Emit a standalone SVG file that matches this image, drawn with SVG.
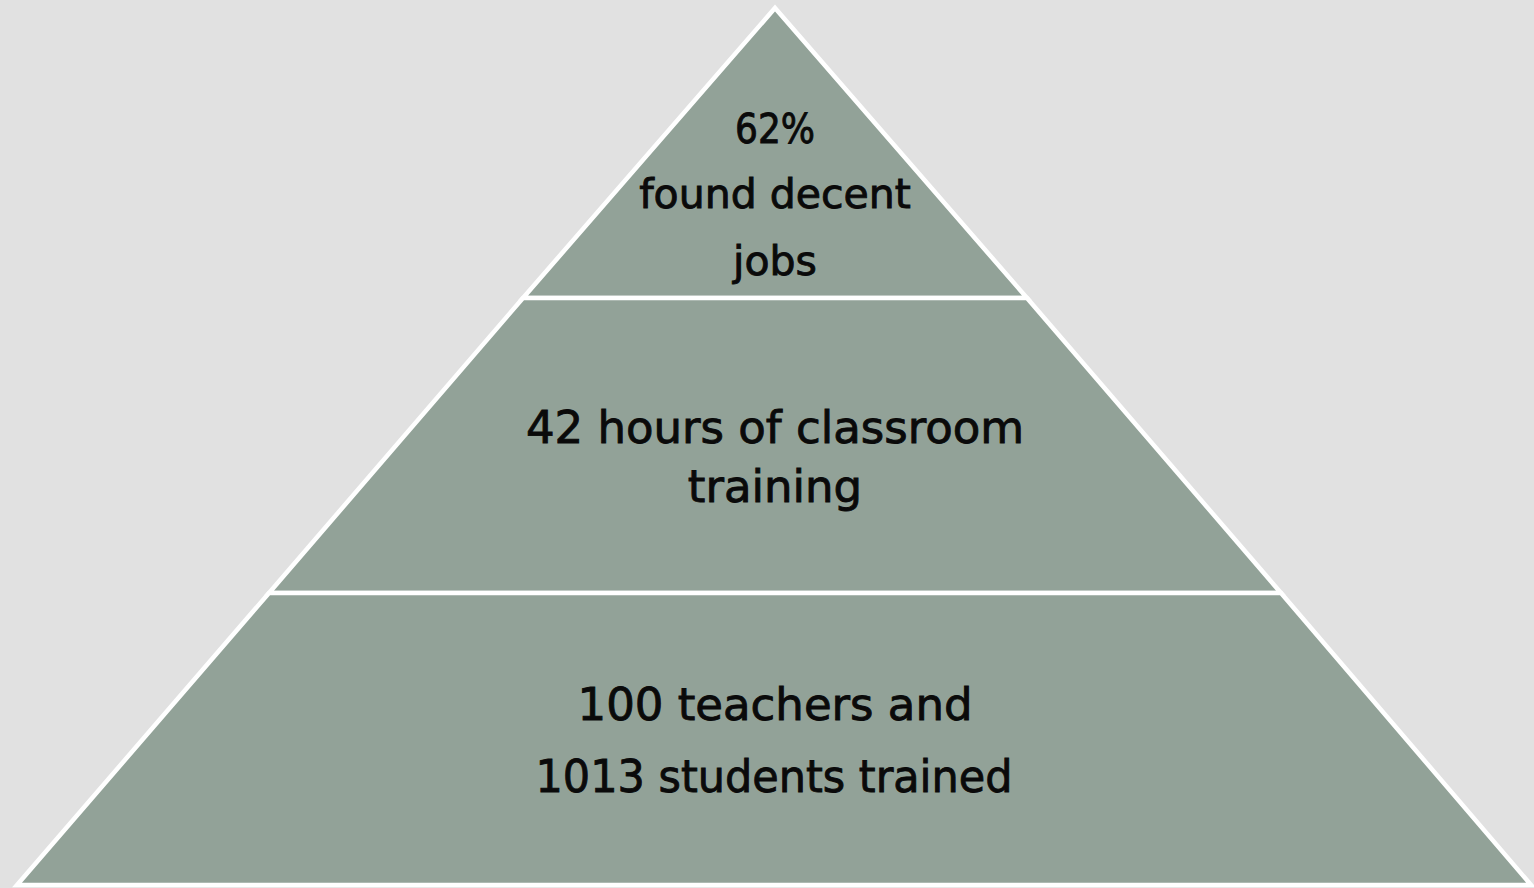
<svg xmlns="http://www.w3.org/2000/svg" width="1534" height="888" viewBox="0 0 1534 888">
<style>
.tier{fill:#92a298;stroke:#ffffff;stroke-width:4.5;stroke-linejoin:miter}
.t{font-family:"DejaVu Sans","Liberation Sans",sans-serif;fill:#0a0a0a;stroke:#0a0a0a;stroke-width:0.9;text-anchor:middle}
</style>
<rect x="0" y="0" width="1534" height="888" fill="#e1e1e1"/>
<g id="tier-top">
<polygon class="tier" points="775,8 1027,298 523,298"/>
<text class="t" font-size="41" x="775" y="143" textLength="80" lengthAdjust="spacingAndGlyphs">62%</text>
<text class="t" font-size="41" x="775" y="208">found decent</text>
<text class="t" font-size="41" x="775" y="275">jobs</text>
</g>
<g id="tier-middle">
<polygon class="tier" points="523,298 1027,298 1281,593 269,593"/>
<text class="t" font-size="45" x="775" y="443">42 hours of classroom</text>
<text class="t" font-size="45" x="775" y="502">training</text>
</g>
<g id="tier-bottom">
<polygon class="tier" points="269,593 1281,593 1531,885 17,885"/>
<text class="t" font-size="45" x="775" y="720">100 teachers and</text>
<text class="t" font-size="45" x="774" y="792" textLength="477" lengthAdjust="spacingAndGlyphs">1013 students trained</text>
</g>
<g id="connectors"></g>
</svg>
